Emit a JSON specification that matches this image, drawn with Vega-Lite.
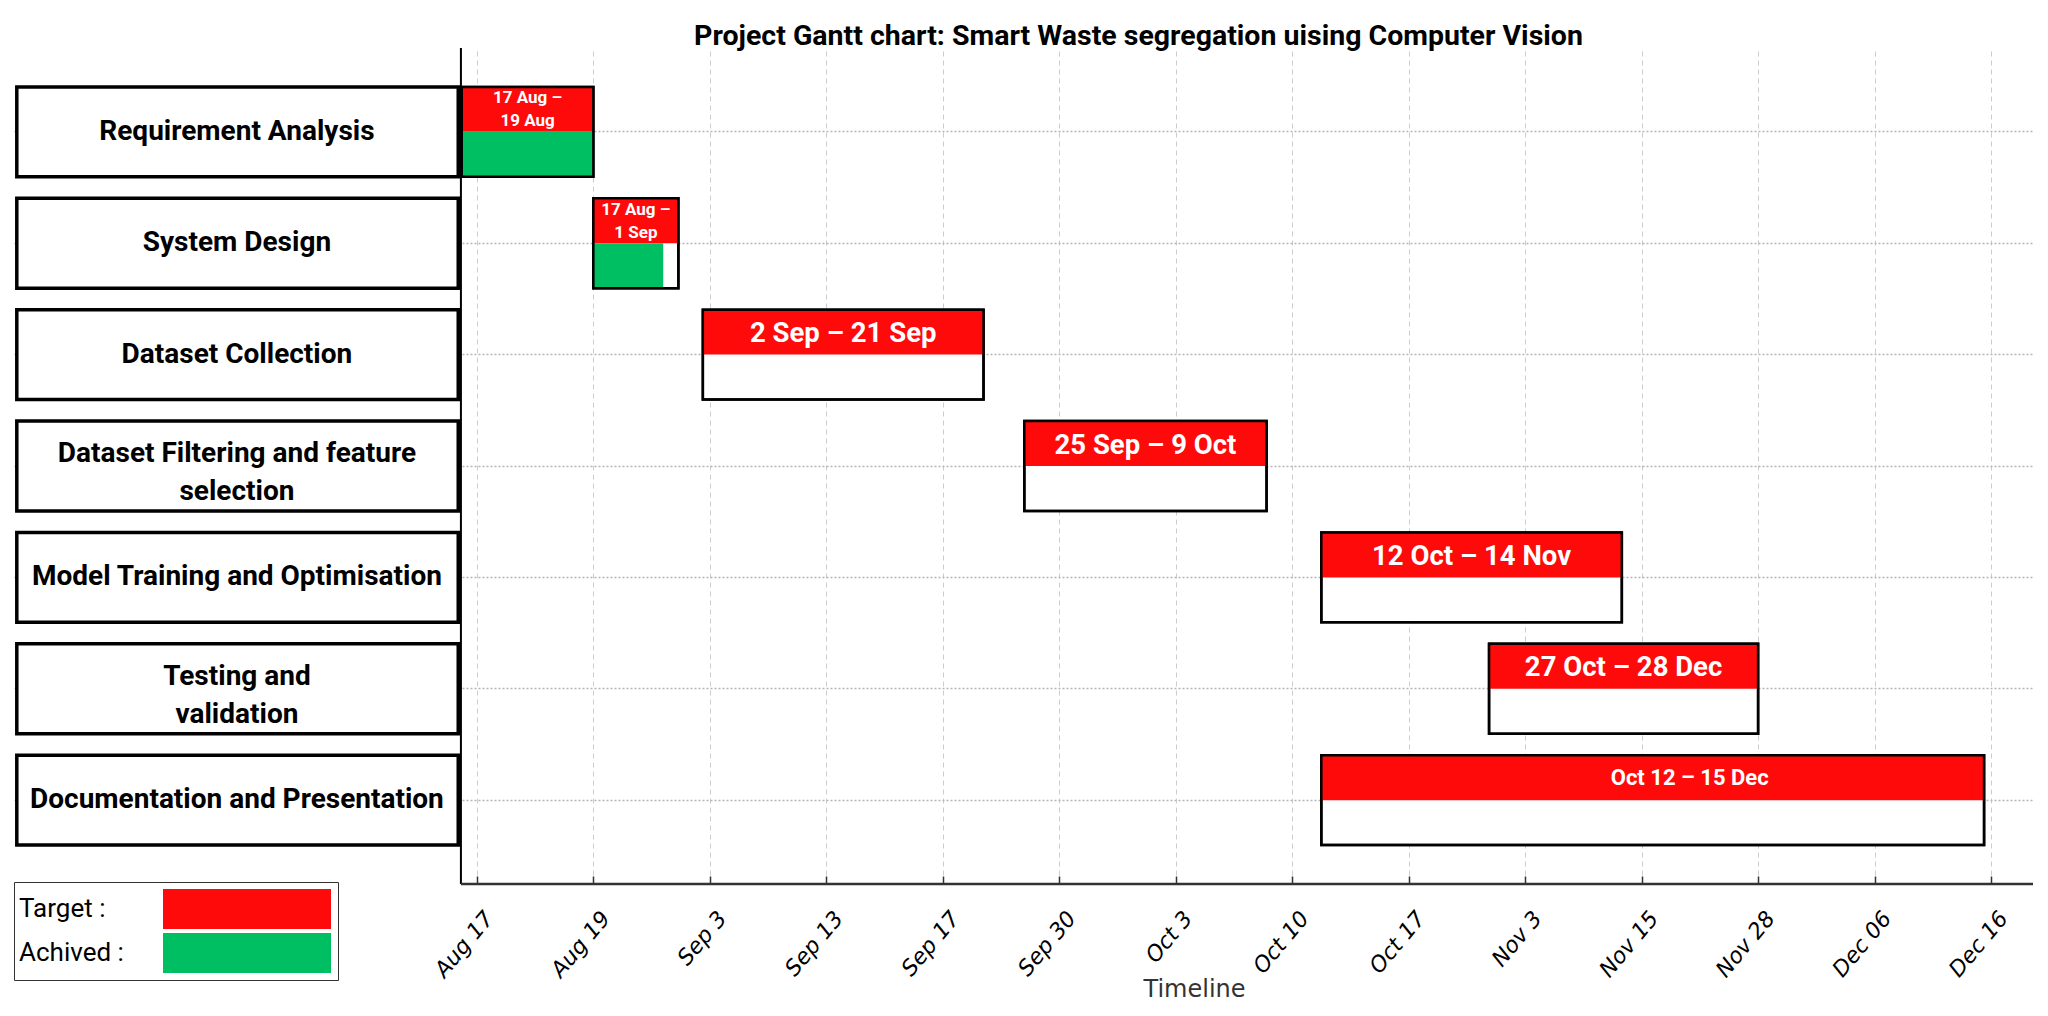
{
  "$schema": "https://vega.github.io/schema/vega-lite/v6.json",
  "width": 2019,
  "height": 836,
  "autosize": {"type": "none"},
  "padding": {"left": 14, "top": 48, "right": 15, "bottom": 132},
  "background": "white",
  "title": {
    "text": "Project Gantt chart: Smart Waste segregation  uising Computer Vision",
    "font": "Roboto", "fontSize": 28.5, "fontWeight": "bold", "color": "#000",
    "anchor": "middle", "dx": 115, "dy": 31, "baseline": "alphabetic", "offset": 5, "frame": "group"
  },
  "config": {"view": {"stroke": null}},
  "data": {
    "values": [
      {"task": "Requirement Analysis", "label": "17 Aug –\n19 Aug", "start": -0.13, "end": 1.0, "done": 1.0, "size": "small", "lines": 1},
      {"task": "System Design", "label": "17 Aug –\n1 Sep", "start": 1.0, "end": 1.73, "done": 1.6, "size": "small", "lines": 1},
      {"task": "Dataset Collection", "label": "2 Sep – 21 Sep", "start": 1.94, "end": 4.35, "done": null, "size": "big", "lines": 1},
      {"task": "Dataset Filtering and feature\nselection", "label": "25 Sep – 9 Oct", "start": 4.7, "end": 6.78, "done": null, "size": "big", "lines": 2},
      {"task": "Model Training and Optimisation", "label": "12 Oct – 14 Nov", "start": 7.25, "end": 9.83, "done": null, "size": "big", "lines": 1},
      {"task": "Testing and\nvalidation", "label": "27 Oct – 28 Dec", "start": 8.69, "end": 11.0, "done": null, "size": "big", "lines": 2},
      {"task": "Documentation and Presentation", "label": "Oct 12 – 15 Dec", "start": 7.25, "end": 12.94, "done": null, "size": "medium", "lines": 1}
    ]
  },
  "transform": [{"calculate": "(datum.start + datum.end) / 2", "as": "mid"}],
  "layer": [
    {
      "mark": {"type": "bar", "fill": "white", "stroke": "#000", "strokeWidth": 3.5},
      "encoding": {
        "x": {"datum": -3.95, "type": "quantitative"},
        "x2": {"datum": -0.16},
        "y": {"field": "task", "type": "nominal", "sort": null,
              "scale": {"paddingInner": 0.194, "paddingOuter": 0.35},
              "axis": {"title": null, "labels": false, "ticks": false, "domain": false, "grid": true,
                       "gridDash": [2, 2], "gridColor": "#b5b5b5", "gridWidth": 1.5, "bandPosition": 0.5}}
      }
    },
    {
      "mark": {"type": "bar", "fill": "white", "stroke": "#000", "strokeWidth": 2.5},
      "encoding": {
        "x": {"field": "start", "type": "quantitative",
              "scale": {"domain": [-3.974, 13.36], "nice": false, "zero": false},
              "axis": {
                "values": [0, 1, 2, 3, 4, 5, 6, 7, 8, 9, 10, 11, 12, 13],
                "labelExpr": "['Aug 17','Aug 19','Sep 3','Sep 13','Sep 17','Sep 30','Oct 3','Oct 10','Oct 17','Nov 3','Nov 15','Nov 28','Dec 06','Dec 16'][datum.value]",
                "labelAngle": -50, "labelAlign": "right", "labelBaseline": "middle",
                "labelFont": "DejaVu Sans", "labelFontStyle": "oblique", "labelFontSize": 22, "labelColor": "#000",
                "labelOffset": 12, "labelPadding": 38, "labelOverlap": false, "labelFlush": false,
                "tickSize": -8, "tickColor": "#333", "tickWidth": 1.5,
                "domain": false,
                "grid": true, "gridDash": [5, 4], "gridColor": "#cccccc", "gridWidth": 1,
                "title": "Timeline", "titleFont": "DejaVu Sans", "titleFontSize": 24, "titleFontWeight": "normal",
                "titleColor": "#333", "titleX": 1180, "titleY": 112, "titleBaseline": "alphabetic"
              }},
        "x2": {"field": "end"},
        "y": {"field": "task", "type": "nominal", "sort": null}
      }
    },
    {
      "mark": {"type": "bar"},
      "encoding": {
        "x": {"field": "start", "type": "quantitative"},
        "x2": {"field": "end"},
        "y": {"field": "task", "type": "nominal", "sort": null},
        "yOffset": {"datum": "top", "type": "nominal", "scale": {"domain": ["top", "bottom"], "paddingInner": 0, "paddingOuter": 0}},
        "color": {"datum": "Target", "type": "nominal",
                  "scale": {"domain": ["Target", "Achived"], "range": ["#FF0A0A", "#00BF63"]},
                  "legend": {"title": null, "orient": "none", "legendX": 0, "legendY": 834,
                             "symbolType": "M-4.2,-1H4.2V1H-4.2Z", "symbolSize": 1600, "symbolOffset": 206,
                             "symbolStrokeWidth": 0, "symbolOpacity": 1,
                             "labelOffset": -248, "labelAlign": "left", "labelFont": "Roboto", "labelFontSize": 26,
                             "labelColor": "#000", "labelLimit": 220, "labelExpr": "datum.label + ' :'",
                             "rowPadding": 4, "padding": 7, "strokeColor": "#333", "fillColor": "#ffffff"}}
      }
    },
    {
      "transform": [{"filter": "datum.done != null"}],
      "mark": {"type": "bar"},
      "encoding": {
        "x": {"field": "start", "type": "quantitative"},
        "x2": {"field": "done"},
        "y": {"field": "task", "type": "nominal", "sort": null},
        "yOffset": {"datum": "bottom", "type": "nominal"},
        "color": {"datum": "Achived", "type": "nominal"}
      }
    },
    {
      "mark": {"type": "bar", "fill": "transparent", "stroke": "#000", "strokeWidth": 2.5},
      "encoding": {
        "x": {"field": "start", "type": "quantitative"},
        "x2": {"field": "end"},
        "y": {"field": "task", "type": "nominal", "sort": null}
      }
    },
    {
      "transform": [{"filter": "datum.size == 'small'"}],
      "mark": {"type": "text", "font": "Roboto", "fontWeight": "bold", "fontSize": 17, "color": "#fff", "lineBreak": "\n", "lineHeight": 23, "baseline": "middle", "dy": -11},
      "encoding": {
        "x": {"field": "mid", "type": "quantitative"},
        "y": {"field": "task", "type": "nominal", "sort": null},
        "yOffset": {"datum": "top", "type": "nominal"},
        "text": {"field": "label"}
      }
    },
    {
      "transform": [{"filter": "datum.size == 'big'"}],
      "mark": {"type": "text", "font": "Roboto", "fontWeight": "bold", "fontSize": 27.5, "color": "#fff", "baseline": "middle", "dy": 2},
      "encoding": {
        "x": {"field": "mid", "type": "quantitative"},
        "y": {"field": "task", "type": "nominal", "sort": null},
        "yOffset": {"datum": "top", "type": "nominal"},
        "text": {"field": "label"}
      }
    },
    {
      "transform": [{"filter": "datum.size == 'medium'"}],
      "mark": {"type": "text", "font": "Roboto", "fontWeight": "bold", "fontSize": 22, "color": "#fff", "baseline": "middle", "dx": 37},
      "encoding": {
        "x": {"field": "mid", "type": "quantitative"},
        "y": {"field": "task", "type": "nominal", "sort": null},
        "yOffset": {"datum": "top", "type": "nominal"},
        "text": {"field": "label"}
      }
    },
    {
      "transform": [{"filter": "datum.lines == 1"}],
      "mark": {"type": "text", "font": "Roboto", "fontWeight": "bold", "fontSize": 28, "color": "#000", "baseline": "middle"},
      "encoding": {
        "x": {"datum": -2.06, "type": "quantitative"},
        "y": {"field": "task", "type": "nominal", "sort": null},
        "text": {"field": "task"}
      }
    },
    {
      "transform": [{"filter": "datum.lines == 2"}],
      "mark": {"type": "text", "font": "Roboto", "fontWeight": "bold", "fontSize": 28, "color": "#000", "lineBreak": "\n", "lineHeight": 38, "baseline": "middle", "dy": -12},
      "encoding": {
        "x": {"datum": -2.06, "type": "quantitative"},
        "y": {"field": "task", "type": "nominal", "sort": null},
        "text": {"field": "task"}
      }
    },
    {
      "data": {"values": [{"edge": "y"}]},
      "mark": {"type": "rule", "color": "#000", "strokeWidth": 2},
      "encoding": {"x": {"datum": -0.137, "type": "quantitative"}}
    },
    {
      "data": {"values": [{"edge": "x"}]},
      "mark": {"type": "rule", "color": "#333", "strokeWidth": 2.5},
      "encoding": {
        "x": {"datum": -0.137, "type": "quantitative"},
        "x2": {"datum": 13.36},
        "y": {"value": "height"}
      }
    }
  ]
}
